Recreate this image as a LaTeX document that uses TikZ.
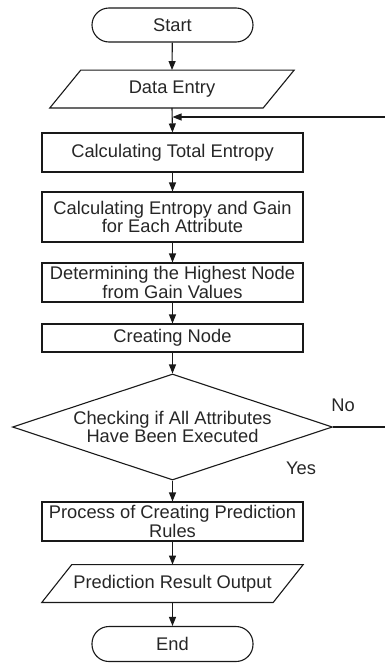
\documentclass[tikz,border=0pt]{standalone}
\usepackage{fontspec}
\setmainfont{Liberation Sans}
\usetikzlibrary{arrows.meta,shapes.geometric,calc}

\begin{document}
\begin{tikzpicture}[x=1pt,y=-1pt,
  every node/.style={font=\fontsize{18.3}{18.6}\selectfont, text=black!85,
    align=center, inner sep=0pt},
  ink/.style={line width=1.1pt, draw=black!90},
  flow/.style={ink, -{Triangle[length=9pt,width=7pt]}},
  terminal/.style={ink, rounded corners=17pt, minimum width=161pt, minimum height=34pt},
  process/.style={ink, minimum width=261pt},
  iobox/.style={minimum height=37.5pt},
  decision/.style={ink, diamond, aspect=3.02, minimum width=320pt, minimum height=106pt},
  label/.style={font=\fontsize{18.3}{18.6}\selectfont}
]
\useasboundingbox (0,0) rectangle (385,664);
\clip (0,0) rectangle (385,664);

% terminals
\node[terminal] (start) at (172.5,25) {Start};
\node[terminal, minimum height=35pt] (end) at (172.5,644) {End};

% data entry (parallelogram drawn around the node box)
\node[iobox, minimum width=213pt] (din) at (172,89) {Data Entry};
\draw[ink] ($(din.north west)+(15.5,0)$) -- ($(din.north east)+(15.5,0)$)
  -- ($(din.south east)+(-15.5,0)$) -- ($(din.south west)+(-15.5,0)$) -- cycle;

% processing steps
\node[process, minimum height=39pt] (tot) at (172.5,152.5) {Calculating Total Entropy};
\node[process, minimum height=50pt] (gain) at (172.5,217) {Calculating Entropy and Gain\\for Each Attribute};
\node[process, minimum height=39pt] (high) at (172.5,282.5) {Determining the Highest Node\\from Gain Values};
\node[process, minimum height=28pt] (make) at (172.5,338) {Creating Node};

% decision
\node[decision] (chk) at (172.5,427) {Checking if All Attributes\\Have Been Executed};

\node[process, minimum height=39pt] (rules) at (172.5,521.5) {Process of Creating Prediction\\Rules};

% prediction output (parallelogram)
\node[iobox, minimum width=231pt] (dout) at (172.5,583.5) {Prediction Result Output};
\draw[ink] ($(dout.north west)+(15,0)$) -- ($(dout.north east)+(15,0)$)
  -- ($(dout.south east)+(-15,0)$) -- ($(dout.south west)+(-15,0)$) -- cycle;

% branch labels
\node[label] (no) at (343,405) {No};
\node[label] (yes) at (301,468) {Yes};

% main flow
\coordinate (join) at (172.5,117);
\draw[flow] (start) -- (din.north);
\draw[flow] (din.south) -- (tot.north);
\draw[flow] (tot) -- (gain);
\draw[flow] (gain) -- (high);
\draw[flow] (high) -- (make);
\draw[flow] (make) -- (chk.north);
\draw[flow] (chk.south) -- (rules);
\draw[flow] (rules) -- (dout.north);
\draw[flow] (dout.south) -- (end);

% loop back when attributes remain
\coordinate (loopR) at (392,427);
\coordinate (loopT) at (392,117);
\draw[flow] (chk.east) -- (loopR) -- (loopT) -- (join);
\end{tikzpicture}
\end{document}
